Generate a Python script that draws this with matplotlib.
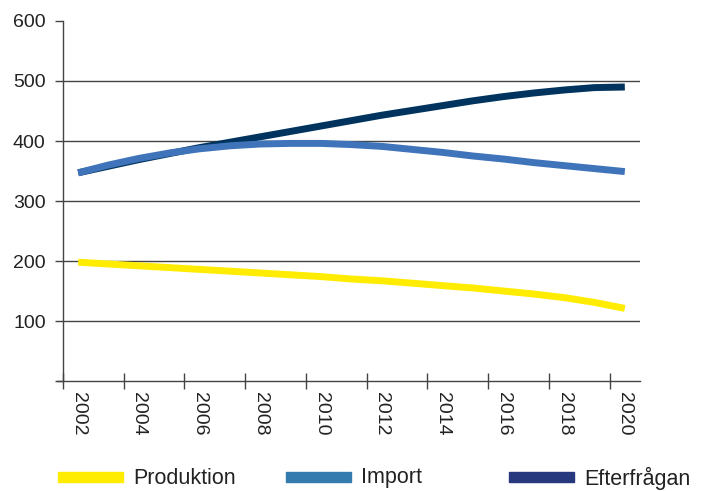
import numpy as np
import matplotlib.pyplot as plt
from matplotlib.patches import Rectangle

plt.rcParams['font.family'] = ['Liberation Sans', 'DejaVu Sans']

years = list(range(2002, 2021))
produktion = [198, 195, 192, 189, 186, 183, 180, 177, 174, 170,
              167, 163, 159, 155, 150, 145, 139, 131, 121]
importv = [347, 360, 371, 380, 387, 392, 395, 396, 396, 394,
           391, 386, 381, 375, 370, 364, 359, 354, 349]
efterfragan = [347, 358, 369, 379, 389, 398, 407, 416, 425, 434,
               443, 451, 459, 467, 474, 480, 485, 489, 490]
year_labels = [str(y) for y in years[::2]]

fig = plt.figure(figsize=(7.02, 4.91), dpi=100)
ax = fig.add_axes([63 / 702, 1 - 381 / 491, (640 - 63) / 702, 360 / 491])

x = np.arange(len(years))
ax.plot(x, efterfragan, color='#00335e', lw=5.0, solid_capstyle='butt', zorder=3)
ax.plot(x, importv, color='#3f74ba', lw=5.0, solid_capstyle='butt', zorder=4)
ax.plot(x, produktion, color='#ffec00', lw=5.0, solid_capstyle='butt', zorder=5)

ax.set_xlim(-0.5, len(years) - 0.5)
ax.set_ylim(0, 600)
ax.set_yticks([0, 100, 200, 300, 400, 500, 600])
ax.set_yticklabels(['', '100', '200', '300', '400', '500', '600'])
for v in [100, 200, 300, 400, 500]:
    ax.axhline(v, color='#444444', lw=1, zorder=1)
ax.tick_params(axis='y', length=6, width=1, color='#444444', labelsize=14,
               labelcolor='#222222', pad=6.5)

ax.set_xticks(np.arange(-0.5, len(years) - 1, 2))
ax.set_xticklabels([])
ax.set_xticks(x[::2], minor=True)
ax.set_xticklabels(year_labels, minor=True, rotation=-90, fontsize=14, color='#222222')
ax.tick_params(axis='x', which='major', direction='inout', length=11, width=1, color='#444444')
ax.tick_params(axis='x', which='minor', length=0, pad=8)

ax.spines['top'].set_visible(False)
ax.spines['right'].set_visible(False)
ax.spines['left'].set_color('#444444')
ax.spines['bottom'].set_color('#444444')
ax.spines['left'].set_linewidth(1)
ax.spines['bottom'].set_linewidth(1)
ax.spines['bottom'].set_bounds(-0.7, len(years) - 0.5)

legend_items = [('Produktion', '#ffec00', 58), ('Import', '#347bb0', 286),
                ('Efterfrågan', '#27387e', 509)]
for name, col, px in legend_items:
    fig.add_artist(Rectangle((px / 702, 1 - 482 / 491), 65 / 702, 10 / 491,
                             transform=fig.transFigure, color=col))
    fig.text((px + 75) / 702, 1 - 478 / 491, name, fontsize=15.5,
             color='#222222', va='center', ha='left')

fig.savefig('out.png', dpi=100)
